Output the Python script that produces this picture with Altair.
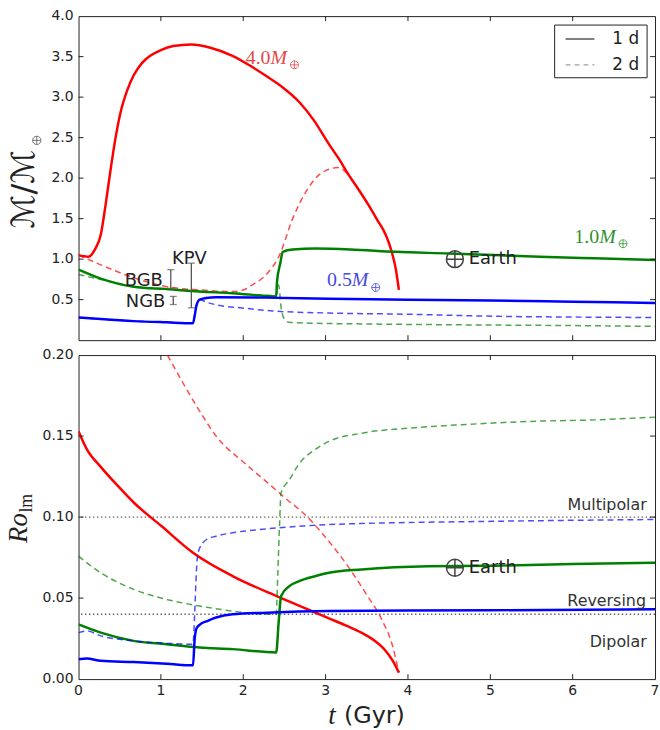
import altair as alt
import pandas as pd

# ---------------- data ----------------
# Top panel: magnetic moment M/M_earth
red1_t = [0, 0.12, 0.2, 0.27, 0.33, 0.39, 0.45, 0.51, 0.59, 0.67, 0.77, 0.87, 1.0, 1.15, 1.37, 1.6, 1.87,
          2.08, 2.28, 2.48, 2.68, 2.86, 3.04, 3.16, 3.28, 3.4, 3.52, 3.63, 3.73, 3.8, 3.85, 3.89]
red1_m = [1.05, 1.03, 1.12, 1.30, 1.68, 2.11, 2.50, 2.81, 3.08, 3.27, 3.42, 3.51, 3.58, 3.63, 3.65, 3.61, 3.51,
          3.39, 3.26, 3.12, 2.94, 2.71, 2.42, 2.24, 2.04, 1.86, 1.67, 1.48, 1.30, 1.10, 0.89, 0.62]
red2_t = [0, 0.27, 0.67, 1.07, 1.47, 1.87, 2.0, 2.12, 2.28, 2.44, 2.6, 2.76, 2.92, 3.04, 3.15, 3.28]
red2_m = [1.05, 0.93, 0.77, 0.66, 0.62, 0.60, 0.62, 0.69, 0.81, 1.05, 1.50, 1.83, 2.04, 2.11, 2.13, 2.04]
grn1_t = [0, 0.27, 0.67, 1.07, 1.47, 1.87, 2.4, 2.41, 2.45, 2.48, 2.6, 2.88, 3.3, 3.85, 4.5, 5.05, 5.6, 6.26, 7]
grn1_m = [0.87, 0.76, 0.66, 0.63, 0.60, 0.58, 0.54, 0.72, 0.95, 1.09, 1.12, 1.13, 1.12, 1.09, 1.07, 1.05, 1.03, 1.01, 0.99]
grn2_t = [0, 0.27, 0.67, 1.07, 1.47, 1.87, 2.4, 2.43, 2.46, 2.5, 2.56, 2.8, 3.5, 4.5, 6, 7]
grn2_m = [0.81, 0.75, 0.66, 0.63, 0.60, 0.58, 0.55, 0.68, 0.40, 0.26, 0.22, 0.21, 0.20, 0.19, 0.18, 0.17]
blu1_t = [0, 0.27, 0.67, 1.07, 1.39, 1.41, 1.43, 1.47, 1.55, 1.67, 2.28, 3.04, 4, 5, 6, 7]
blu1_m = [0.28, 0.26, 0.235, 0.22, 0.21, 0.30, 0.42, 0.50, 0.52, 0.53, 0.525, 0.51, 0.50, 0.49, 0.475, 0.46]
blu2_t = [0, 0.27, 0.67, 1.07, 1.39, 1.41, 1.43, 1.47, 1.55, 1.7, 1.96, 2.36, 3.04, 4, 5.05, 6, 7]
blu2_m = [0.28, 0.26, 0.235, 0.22, 0.21, 0.30, 0.42, 0.50, 0.47, 0.43, 0.40, 0.36, 0.335, 0.32, 0.295, 0.285, 0.28]

# Bottom panel: local Rossby number
red1_ro_t = [0, 0.1, 0.27, 0.5, 0.67, 1.01, 1.39, 1.87, 2.44, 2.83, 3.04, 3.25, 3.44, 3.6, 3.72, 3.82, 3.89]
red1_ro = [0.153, 0.142, 0.131, 0.118, 0.109, 0.0943, 0.078, 0.0636, 0.0505, 0.042, 0.0375, 0.033, 0.0285,
           0.0235, 0.018, 0.011, 0.004]
red2_ro_t = [1.08, 1.3, 1.5, 1.67, 2.0, 2.3, 2.48, 2.78, 3.04, 3.28, 3.5, 3.68, 3.81, 3.89]
red2_ro = [0.2, 0.18, 0.163, 0.15, 0.134, 0.121, 0.113, 0.10, 0.085, 0.069, 0.052, 0.037, 0.021, 0.004]
grn1_ro_t = [0, 0.27, 0.67, 1.07, 1.47, 1.87, 2.4, 2.43, 2.46, 2.56, 2.68, 2.88, 3.04, 3.44, 4.25, 5.05, 6, 7]
grn1_ro = [0.0338, 0.0287, 0.0236, 0.0215, 0.0195, 0.0185, 0.0164, 0.035, 0.0513, 0.0574, 0.0605, 0.0636,
           0.0656, 0.0677, 0.0697, 0.070, 0.071, 0.0718]
grn2_ro_t = [0, 0.27, 0.67, 1.07, 1.47, 1.87, 2.28, 2.4, 2.42, 2.44, 2.46, 2.56, 2.68, 2.88, 3.04, 3.44,
             4.05, 4.65, 5.45, 6.26, 7]
grn2_ro = [0.0759, 0.0656, 0.0554, 0.0492, 0.0451, 0.042, 0.040, 0.040, 0.0656, 0.0943, 0.115, 0.123, 0.133,
           0.142, 0.1467, 0.1518, 0.155, 0.157, 0.159, 0.160, 0.1617]
blu1_ro_t = [0, 0.1, 0.27, 0.67, 1.07, 1.39, 1.41, 1.43, 1.47, 1.57, 1.67, 1.87, 2.28, 3.04, 5, 7]
blu1_ro = [0.0123, 0.0127, 0.0113, 0.0105, 0.0095, 0.0085, 0.0246, 0.031, 0.0335, 0.036, 0.038, 0.040, 0.041,
           0.042, 0.0425, 0.0431]
blu2_ro_t = [0, 0.1, 0.27, 0.67, 1.07, 1.39, 1.41, 1.43, 1.45, 1.55, 1.67, 1.87, 2.28, 2.68, 3.04, 5.05, 7]
blu2_ro = [0.0287, 0.0297, 0.0267, 0.0236, 0.0222, 0.0215, 0.04, 0.065, 0.078, 0.086, 0.0882, 0.0903, 0.0927,
           0.0943, 0.0954, 0.0974, 0.0985]

# paleomagnetic ranges (KPV, BGB, NGB)
bar_names = ["KPV", "BGB", "NGB"]
bar_t = [1.37, 1.12, 1.15]
bar_lo = [0.40, 0.64, 0.44]
bar_hi = [0.95, 0.87, 0.54]

# regime thresholds
regime_lines = [0.10, 0.04]

# ticks and tick labels
x_ticks = [1, 2, 3, 4, 5, 6]
x_labels = [0, 1, 2, 3, 4, 5, 6, 7]
y1_ticks = [0.5, 1.0, 1.5, 2.0, 2.5, 3.0, 3.5]
y1_labels = [0.5, 1.0, 1.5, 2.0, 2.5, 3.0, 3.5, 4.0]
y2_ticks = [0.05, 0.10, 0.15]
y2_labels = [0.0, 0.05, 0.10, 0.15, 0.20]

# ---------------- styling ----------------
W, H1, H2 = 580, 326, 326
FONT = "DejaVu Sans"
SERIF = "Liberation Serif"
INK = "#222222"
RED, GRN, BLU = "#ff0000", "#008000", "#0000ff"
OPLUS = "M-1,0A1,1,0,1,0,1,0A1,1,0,1,0,-1,0ZM-1,0L1,0M0,-1L0,1"
DUMMY = pd.DataFrame({"k": [0]})

xs = alt.Scale(domain=[0, 7], nice=False, zero=False)
ys1 = alt.Scale(domain=[0, 4], nice=False, zero=False)
ys2 = alt.Scale(domain=[0, 0.2], nice=False, zero=False)


def df(t, y):
    return pd.DataFrame({"t": t, "y": y, "i": list(range(len(t)))})


def curve(t, y, color, dashed, ysc):
    base = alt.Chart(df(t, y))
    if dashed:
        m = base.mark_line(color=color, strokeWidth=1.5, strokeDash=[6, 4], opacity=0.7, clip=True,
                           interpolate="monotone")
    else:
        m = base.mark_line(color=color, strokeWidth=2.5, clip=True, interpolate="monotone")
    return m.encode(
        x=alt.X("t:Q", scale=xs, axis=None),
        y=alt.Y("y:Q", scale=ysc, axis=None),
        order="i:Q",
    )


def ticks_layers(yvals, ysc, H):
    xt = pd.DataFrame({"t": x_ticks})
    yt = pd.DataFrame({"v": yvals})
    xe = alt.X("t:Q", scale=xs, axis=None)
    ye = alt.Y("v:Q", scale=ysc, axis=None)
    rule = dict(color=INK, strokeWidth=1)
    return [
        alt.Chart(xt).mark_rule(**rule).encode(x=xe, y=alt.value(H), y2=alt.value(H - 5)),
        alt.Chart(xt).mark_rule(**rule).encode(x=xe, y=alt.value(0), y2=alt.value(5)),
        alt.Chart(yt).mark_rule(**rule).encode(y=ye, x=alt.value(0), x2=alt.value(5)),
        alt.Chart(yt).mark_rule(**rule).encode(y=ye, x=alt.value(W - 5), x2=alt.value(W)),
    ]


def ylabels(vals, ysc, fmt):
    return alt.Chart(pd.DataFrame({"v": vals})).mark_text(
        font=FONT, fontSize=14, color=INK, align="right", baseline="middle").encode(
        y=alt.Y("v:Q", scale=ysc, axis=None), x=alt.value(-5), text=alt.Text("v:Q", format=fmt))


def dtext(txt, tx, ty, **kw):
    return alt.Chart(DUMMY).mark_text(text=txt, **kw).encode(
        x=alt.XDatum(tx, axis=None), y=alt.YDatum(ty, axis=None))


def dpoint(tx, ty, size, color, sw=1.0, **kw):
    return alt.Chart(DUMMY).mark_point(shape=OPLUS, size=size, filled=False, stroke=color,
                                       strokeWidth=sw, opacity=1, **kw).encode(
        x=alt.XDatum(tx, axis=None), y=alt.YDatum(ty, axis=None))


def ptext(txt, px, py, **kw):
    return alt.Chart(DUMMY).mark_text(text=txt, **kw).encode(x=alt.value(px), y=alt.value(py))


def mass_label(num, tx, ty, color):
    return [
        dtext(num, tx, ty, font=SERIF, fontSize=20, color=color, align="left", baseline="middle"),
        dtext("M", tx, ty, font=SERIF, fontSize=20, fontStyle="italic", color=color, align="left",
              baseline="middle", dx=25),
        dpoint(tx, ty, 64, color, 0.8, xOffset=49, yOffset=7),
    ]


# ---------------- top panel ----------------
top_layers = [
    curve(red1_t, red1_m, RED, False, ys1),
    curve(red2_t, red2_m, RED, True, ys1),
    curve(grn2_t, grn2_m, GRN, True, ys1),
    curve(grn1_t, grn1_m, GRN, False, ys1),
    curve(blu2_t, blu2_m, BLU, True, ys1),
    curve(blu1_t, blu1_m, BLU, False, ys1),
    ylabels(y1_labels, ys1, ".1f"),
]
top_layers += ticks_layers(y1_ticks, ys1, H1)

bars = pd.DataFrame({"name": bar_names, "t": bar_t, "lo": bar_lo, "hi": bar_hi})
bx = alt.X("t:Q", scale=xs, axis=None)
bar_base = alt.Chart(bars)
top_layers += [
    bar_base.mark_rule(color="#555555", strokeWidth=1.3).encode(
        x=bx, y=alt.Y("lo:Q", scale=ys1, axis=None), y2="hi:Q"),
    bar_base.mark_tick(orient="horizontal", color="#555555", size=7, thickness=1.3).encode(
        x=bx, y=alt.Y("lo:Q", scale=ys1, axis=None)),
    bar_base.mark_tick(orient="horizontal", color="#555555", size=7, thickness=1.3).encode(
        x=bx, y=alt.Y("hi:Q", scale=ys1, axis=None)),
    bar_base.transform_filter(alt.datum.name == "KPV").mark_text(
        font=FONT, fontSize=18, color=INK, align="center", baseline="alphabetic", dy=1, dx=-2).encode(
        x=bx, y=alt.Y("hi:Q", scale=ys1, axis=None), text="name:N"),
    bar_base.transform_filter(alt.datum.name != "KPV").transform_calculate(
        mid="(datum.lo + datum.hi) / 2").mark_text(
        font=FONT, fontSize=18, color=INK, align="right", baseline="middle", dx=-8, dy=2).encode(
        x=bx, y=alt.Y("mid:Q", scale=ys1, axis=None), text="name:N"),
]

top_layers += mass_label("4.0", 2.03, 3.485, "#e34848")
top_layers += mass_label("0.5", 3.017, 0.736, "#4848e6")
top_layers += mass_label("1.0", 6.02, 1.276, "#2f922f")
top_layers += [
    dpoint(4.57, 1.0, 289, "#444444", 1.5),
    dtext("Earth", 4.57, 1.0, font=FONT, fontSize=18, color=INK, align="left", baseline="middle", dx=14),
]

# legend (drawn)
top_layers += [
    alt.Chart(DUMMY).mark_rect(fill="white", stroke=INK, strokeWidth=1).encode(
        x=alt.value(479), x2=alt.value(572), y=alt.value(9), y2=alt.value(62)),
    alt.Chart(DUMMY).mark_rule(color="#808080", strokeWidth=2).encode(
        x=alt.value(490), x2=alt.value(519), y=alt.value(23)),
    alt.Chart(DUMMY).mark_rule(color="#a0a0a0", strokeWidth=1.3, strokeDash=[5, 4]).encode(
        x=alt.value(490), x2=alt.value(519), y=alt.value(49)),
    ptext("1 d", 564, 23, font=FONT, fontSize=17, color=INK, align="right", baseline="middle"),
    ptext("2 d", 564, 49, font=FONT, fontSize=17, color=INK, align="right", baseline="middle"),
]

# y title (M / M_earth)
top_layers += [
    ptext("\u2133/\u2133", -55, 174, font=FONT, fontSize=32, color=INK, angle=270,
          align="center", baseline="middle"),
    alt.Chart(DUMMY).mark_point(shape=OPLUS, size=70, filled=False, stroke="#666666", strokeWidth=0.9,
                                opacity=1).encode(x=alt.value(-42), y=alt.value(125)),
    # invisible anchor fixing the outer margins
    alt.Chart(DUMMY).mark_rule(opacity=0).encode(
        x=alt.value(-78), x2=alt.value(-77), y=alt.value(-13), y2=alt.value(-13)),
]

top = alt.layer(*top_layers).properties(width=W, height=H1)

# ---------------- bottom panel ----------------
bot_layers = [
    alt.Chart(pd.DataFrame({"v": regime_lines})).mark_rule(
        color="#666666", strokeWidth=1.4, strokeDash=[1.5, 2.5]).encode(
        y=alt.Y("v:Q", scale=ys2, axis=None)),
    curve(red1_ro_t, red1_ro, RED, False, ys2),
    curve(red2_ro_t, red2_ro, RED, True, ys2),
    curve(grn2_ro_t, grn2_ro, GRN, True, ys2),
    curve(grn1_ro_t, grn1_ro, GRN, False, ys2),
    curve(blu2_ro_t, blu2_ro, BLU, True, ys2),
    curve(blu1_ro_t, blu1_ro, BLU, False, ys2),
    ylabels(y2_labels, ys2, ".2f"),
    alt.Chart(pd.DataFrame({"t": x_labels})).mark_text(
        font=FONT, fontSize=14, color=INK, align="center", baseline="middle").encode(
        x=alt.X("t:Q", scale=xs, axis=None), y=alt.value(H2 + 12), text=alt.Text("t:Q", format="d")),
]
bot_layers += ticks_layers(y2_ticks, ys2, H2)
bot_layers += [
    dtext("Multipolar", 6.90, 0.1074, font=FONT, fontSize=16, color="#333333", align="right", baseline="middle"),
    dtext("Reversing", 6.89, 0.0480, font=FONT, fontSize=16, color="#333333", align="right", baseline="middle"),
    dtext("Dipolar", 6.90, 0.0227, font=FONT, fontSize=16, color="#333333", align="right", baseline="middle"),
    dpoint(4.57, 0.0687, 289, "#444444", 1.5),
    dtext("Earth", 4.57, 0.0687, font=FONT, fontSize=18, color=INK, align="left", baseline="middle", dx=14),
    # axis titles
    ptext("t", 255, 363, font=SERIF, fontSize=27, fontStyle="italic", color=INK, align="center",
          baseline="middle"),
    ptext("(Gyr)", 267, 363, font=FONT, fontSize=24, color=INK, align="left", baseline="middle"),
    ptext("Ro", -60, 174, font=SERIF, fontSize=27, fontStyle="italic", color=INK, angle=270,
          align="center", baseline="middle"),
    ptext("lm", -52, 149, font=SERIF, fontSize=18, color=INK, angle=270, align="center", baseline="middle"),
]
bottom = alt.layer(*bot_layers).properties(width=W, height=H2)

chart = alt.vconcat(top, bottom, spacing=15, bounds="flush").properties(
    padding=0, background="white"
).configure_view(stroke=INK, strokeWidth=1)

chart.save("out.html", embed_options={"renderer": "svg", "actions": False})
